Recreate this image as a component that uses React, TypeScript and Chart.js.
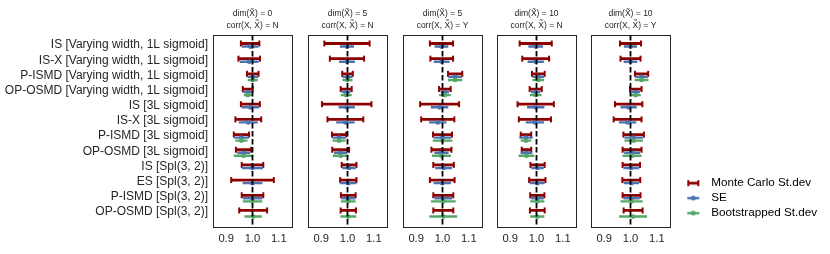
import React, { useEffect, useRef } from 'react';
import { Chart, registerables } from 'chart.js';

Chart.register(...registerables);
Chart.defaults.font.family = "'Liberation Sans', Arial, sans-serif";

// ---------------- data ----------------
const categories = [
  'IS [Varying width, 1L sigmoid]',
  'IS-X [Varying width, 1L sigmoid]',
  'P-ISMD [Varying width, 1L sigmoid]',
  'OP-OSMD [Varying width, 1L sigmoid]',
  'IS [3L sigmoid]',
  'IS-X [3L sigmoid]',
  'P-ISMD [3L sigmoid]',
  'OP-OSMD [3L sigmoid]',
  'IS [Spl(3, 2)]',
  'ES [Spl(3, 2)]',
  'P-ISMD [Spl(3, 2)]',
  'OP-OSMD [Spl(3, 2)]',
];
const xTickValues = [0.9, 1.0, 1.1];
const referenceValue = 1.0;
const panelDims = ['0', '5', '5', '10', '10'];
const panelCorr = ['N', 'N', 'Y', 'N', 'Y'];
const seriesNames = ['Monte Carlo St.dev', 'SE', 'Bootstrapped St.dev'];

// dim = 0, corr = N
const meanD0N = [0.991, 0.9875, 1.001, 0.982, 0.992, 0.984, 0.958, 0.966, 1.0, 1.0, 1.0, 1.0025];
const mcD0N = [0.035, 0.041, 0.022, 0.019, 0.036, 0.049, 0.029, 0.029, 0.041, 0.081, 0.041, 0.053];
const seD0N = [0.032, 0.036, 0.02, 0.019, 0.033, 0.036, 0.028, 0.024, 0.04, 0.0375, 0.037, null];
const bootD0N = [null, null, 0.019, 0.015, null, null, 0.023, 0.037, null, null, 0.037, 0.033];

// dim = 5, corr = N
const meanD5N = [0.998, 0.998, 1.0, 0.995, 0.997, 0.992, 0.968, 0.974, 1.006, 1.003, 1.003, 1.003];
const mcD5N = [0.086, 0.065, 0.02, 0.021, 0.094, 0.068, 0.027, 0.032, 0.028, 0.031, 0.028, 0.029];
const seD5N = [0.027, 0.03, 0.019, 0.017, 0.031, 0.035, 0.026, 0.025, 0.026, 0.031, 0.027, null];
const bootD5N = [null, null, 0.019, 0.021, null, null, 0.025, 0.03, null, null, 0.028, 0.03];

// dim = 5, corr = Y
const meanD5Y = [0.996, 0.997, 1.048, 1.009, 0.989, 0.982, 1.0, 0.996, 1.004, 0.999, 1.003, 1.003];
const mcD5Y = [0.044, 0.043, 0.027, 0.022, 0.074, 0.063, 0.036, 0.038, 0.039, 0.047, 0.038, 0.038];
const seD5Y = [0.026, 0.03, 0.026, 0.016, 0.033, 0.033, 0.033, 0.027, 0.032, 0.033, 0.034, null];
const bootD5Y = [null, null, 0.027, 0.022, null, null, 0.037, 0.036, null, null, 0.047, 0.053];

// dim = 10, corr = N
const meanD10N = [0.997, 0.997, 1.007, 0.997, 0.997, 0.994, 0.96, 0.962, 1.004, 1.003, 1.003, 1.003];
const mcD10N = [0.061, 0.051, 0.024, 0.023, 0.069, 0.061, 0.02, 0.018, 0.027, 0.031, 0.027, 0.028];
const seD10N = [0.028, 0.031, 0.021, 0.018, 0.033, 0.035, 0.025, 0.022, 0.024, 0.028, 0.025, null];
const bootD10N = [null, null, 0.022, 0.022, null, null, 0.02, 0.03, null, null, 0.027, 0.027];

// dim = 10, corr = Y
const meanD10Y = [1.0, 1.0, 1.042, 1.02, 0.993, 0.989, 1.012, 1.006, 1.003, 1.003, 1.004, 1.01];
const mcD10Y = [0.04, 0.038, 0.025, 0.022, 0.052, 0.053, 0.039, 0.036, 0.033, 0.034, 0.034, 0.036];
const seD10Y = [0.025, 0.026, 0.024, 0.016, 0.031, 0.033, 0.035, 0.03, 0.03, 0.029, 0.031, null];
const bootD10Y = [null, null, 0.026, 0.019, null, null, 0.035, 0.036, null, null, 0.042, 0.053];

const panelMeans = [meanD0N, meanD5N, meanD5Y, meanD10N, meanD10Y];
const panelMC = [mcD0N, mcD5N, mcD5Y, mcD10N, mcD10Y];
const panelSE = [seD0N, seD5N, seD5Y, seD10N, seD10Y];
const panelBoot = [bootD0N, bootD5N, bootD5Y, bootD10N, bootD10Y];

// ---------------- style / layout ----------------
const RED = '#8e0000';
const BLUE = '#4C72B0';
const GREEN = '#55A868';
const EDGE = '#262626';
const X_MIN = 0.85;
const X_MAX = 1.15;
const Y_MIN = -0.66;
const Y_MAX = 11.99;
const OFFSETS = [-0.1, 0.1, 0.3];
const PANEL_LEFTS = [213, 308, 403, 497, 591];
const PANEL_W = 79;
const CANVAS_H = 254;
const PLOT_BOTTOM = 227;

function barPoints(means: number[], halves: (number | null)[], offset: number) {
  const pts: { x: number | null; y: number | null }[] = [];
  means.forEach((m, r) => {
    const h = halves[r];
    if (h === null || h === undefined) return;
    const y = r + offset;
    pts.push({ x: m - h, y }, { x: m, y }, { x: m + h, y }, { x: null, y: null });
  });
  return pts;
}

function geom(i: number) {
  if (i === 0) return { left: 0, leftW: PANEL_LEFTS[0], rightPad: 8, w: PANEL_LEFTS[0] + PANEL_W + 8 };
  return { left: PANEL_LEFTS[i] - 6, leftW: 6, rightPad: 6, w: 6 + PANEL_W + 6 };
}

function makePanelConfig(i: number): any {
  const g = geom(i);
  const means = panelMeans[i];
  const first = i === 0;
  return {
    type: 'line',
    data: {
      datasets: [
        {
          label: seriesNames[0],
          data: barPoints(means, panelMC[i], OFFSETS[0]),
          borderColor: RED,
          borderWidth: 2.8,
          pointStyle: 'line',
          pointRotation: 90,
          pointRadius: (c: any) => (c.dataIndex % 4 === 0 || c.dataIndex % 4 === 2 ? 3 : 0),
          pointBorderWidth: 2,
          pointBorderColor: RED,
          pointBackgroundColor: RED,
          tension: 0,
          spanGaps: false,
          order: 4,
        },
        {
          label: seriesNames[1],
          data: barPoints(means, panelSE[i], OFFSETS[1]),
          borderColor: BLUE,
          borderWidth: 2.4,
          pointStyle: 'circle',
          pointRadius: (c: any) => (c.dataIndex % 4 === 1 ? 2.4 : 0),
          pointBorderWidth: 0,
          pointBackgroundColor: BLUE,
          tension: 0,
          spanGaps: false,
          order: 3,
        },
        {
          label: seriesNames[2],
          data: barPoints(means, panelBoot[i], OFFSETS[2]),
          borderColor: GREEN,
          borderWidth: 2.4,
          pointStyle: 'circle',
          pointRadius: (c: any) => (c.dataIndex % 4 === 1 ? 2.4 : 0),
          pointBorderWidth: 0,
          pointBackgroundColor: GREEN,
          tension: 0,
          spanGaps: false,
          order: 2,
        },
        {
          label: 'reference',
          data: [
            { x: referenceValue, y: Y_MIN },
            { x: referenceValue, y: Y_MAX },
          ],
          borderColor: '#000000',
          borderWidth: 1.8,
          borderDash: [5.5, 2.5],
          pointRadius: 0,
          order: 1,
        },
      ],
    },
    options: {
      animation: false,
      responsive: false,
      maintainAspectRatio: false,
      events: [],
      layout: { padding: { left: 0, right: g.rightPad, top: 0, bottom: 0 } },
      plugins: {
        legend: { display: false },
        tooltip: { enabled: false },
        title: {
          display: true,
          fullSize: false,
          text: [`dim(X\u0303) = ${panelDims[i]}`, `corr(X, X\u0303) = ${panelCorr[i]}`],
          color: EDGE,
          font: { size: 8.5, weight: 'normal', lineHeight: 11.5 / 8.5 },
          padding: { top: 8.25, bottom: 3.75 },
        },
      },
      scales: {
        x: {
          type: 'linear',
          position: 'bottom',
          min: X_MIN,
          max: X_MAX,
          afterBuildTicks: (s: any) => {
            s.ticks = xTickValues.map((v) => ({ value: v }));
          },
          ticks: {
            callback: (v: any) => Number(v).toFixed(1),
            color: EDGE,
            font: { size: 11.2 },
            padding: 5,
            maxRotation: 0,
            autoSkip: false,
          },
          grid: { display: false, drawTicks: false },
          border: { display: true, color: EDGE, width: 1 },
          afterFit: (s: any) => {
            s.height = CANVAS_H - PLOT_BOTTOM;
          },
        },
        xTop: {
          type: 'linear',
          position: 'top',
          min: X_MIN,
          max: X_MAX,
          ticks: { display: false },
          grid: { display: false, drawTicks: false },
          border: { display: true, color: EDGE, width: 1 },
          afterFit: (s: any) => {
            s.height = 0;
          },
        },
        y: {
          type: 'linear',
          position: 'left',
          reverse: true,
          min: Y_MIN,
          max: Y_MAX,
          afterBuildTicks: (s: any) => {
            s.ticks = categories.map((_, k) => ({ value: k }));
          },
          ticks: {
            display: first,
            callback: (_v: any, idx: number) => categories[idx],
            color: EDGE,
            font: { size: 12 },
            padding: 5,
            autoSkip: false,
          },
          grid: { display: false, drawTicks: false },
          border: { display: true, color: EDGE, width: 1 },
          afterFit: (s: any) => {
            s.width = g.leftW;
          },
        },
        yRight: {
          type: 'linear',
          position: 'right',
          min: Y_MIN,
          max: Y_MAX,
          ticks: { display: false },
          grid: { display: false, drawTicks: false },
          border: { display: true, color: EDGE, width: 1 },
          afterFit: (s: any) => {
            s.width = 0;
          },
        },
      },
    },
  };
}

function makeMarker(kind: number): HTMLCanvasElement {
  const c = document.createElement('canvas');
  c.width = 14;
  c.height = 8;
  const ctx = c.getContext('2d')!;
  const col = [RED, BLUE, GREEN][kind];
  ctx.strokeStyle = col;
  ctx.fillStyle = col;
  ctx.lineWidth = kind === 0 ? 2.8 : 2.4;
  ctx.beginPath();
  ctx.moveTo(1, 4);
  ctx.lineTo(13, 4);
  ctx.stroke();
  if (kind === 0) {
    ctx.lineWidth = 2;
    ctx.beginPath();
    ctx.moveTo(2, 1);
    ctx.lineTo(2, 7);
    ctx.moveTo(12, 1);
    ctx.lineTo(12, 7);
    ctx.stroke();
  } else {
    ctx.beginPath();
    ctx.arc(7, 4, 2.4, 0, Math.PI * 2);
    ctx.fill();
  }
  return c;
}

export default function App() {
  const panelRefs = useRef<(HTMLCanvasElement | null)[]>([]);
  const legendRef = useRef<HTMLCanvasElement | null>(null);

  useEffect(() => {
    const charts: Chart[] = [];
    panelMeans.forEach((_, i) => {
      const cv = panelRefs.current[i];
      if (cv) charts.push(new Chart(cv, makePanelConfig(i)));
    });
    if (legendRef.current) {
      const markers = [0, 1, 2].map(makeMarker);
      const colors = [RED, BLUE, GREEN];
      charts.push(
        new Chart(legendRef.current, {
          type: 'line',
          data: { datasets: [] },
          options: {
            animation: false,
            responsive: false,
            events: [],
            layout: { padding: 0 },
            scales: { x: { display: false }, y: { display: false } },
            plugins: {
              tooltip: { enabled: false },
              legend: {
                display: true,
                position: 'left',
                align: 'start',
                labels: {
                  usePointStyle: true,
                  pointStyleWidth: 24,
                  padding: 3.3,
                  color: EDGE,
                  font: { size: 11.7 },
                  generateLabels: () =>
                    seriesNames.map((t, k) => ({
                      text: t,
                      pointStyle: markers[k] as any,
                      fillStyle: colors[k],
                      strokeStyle: colors[k],
                      lineWidth: 0,
                      hidden: false,
                      datasetIndex: k,
                    })),
                },
              },
            },
          } as any,
        })
      );
    }
    return () => charts.forEach((c) => c.destroy());
  }, []);

  return (
    <div
      style={{
        position: 'absolute',
        left: 0,
        top: 0,
        width: 830,
        height: CANVAS_H,
        overflow: 'hidden',
        background: '#ffffff',
      }}
    >
      {panelMeans.map((_, i) => {
        const g = geom(i);
        return (
          <canvas
            key={i}
            ref={(el) => {
              panelRefs.current[i] = el;
            }}
            width={g.w}
            height={CANVAS_H}
            style={{ position: 'absolute', left: g.left, top: 0 }}
          />
        );
      })}
      <canvas
        ref={legendRef}
        width={320}
        height={60}
        style={{ position: 'absolute', left: 678, top: 174 }}
      />
    </div>
  );
}
